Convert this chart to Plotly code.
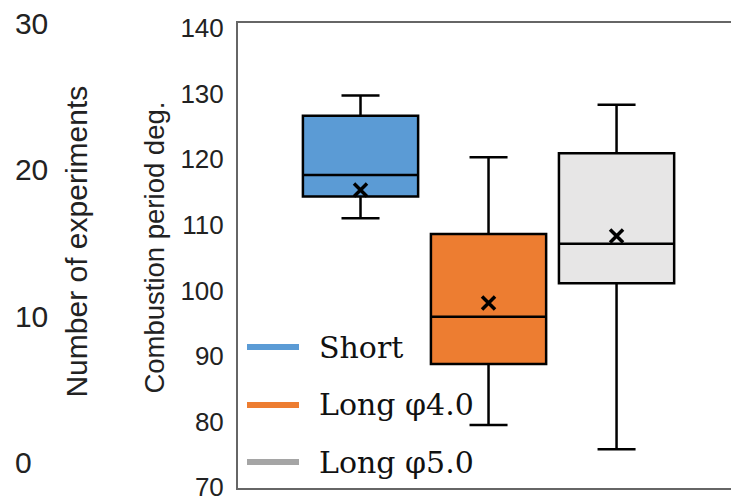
import plotly.graph_objects as go

# ---- data ----
series = ["Short", "Long φ4.0", "Long φ5.0"]
lower = [111.0, 79.5, 75.8]
q1 = [114.3, 88.8, 101.1]
median = [117.6, 96.0, 107.1]
q3 = [126.6, 108.6, 120.9]
upper = [129.7, 120.3, 128.3]
mean = [115.3, 98.1, 108.3]

right_ticks = [70, 80, 90, 100, 110, 120, 130, 140]
left_ticks = [0, 10, 20, 30]

box_fill = ["#5B9BD5", "#ED7D31", "#E7E6E6"]
legend_color = ["#5B9BD5", "#ED7D31", "#A5A5A5"]

W, H = 731, 497
fig = go.Figure()

for i, name in enumerate(series):
    fig.add_trace(go.Box(
        x=[i], q1=[q1[i]], median=[median[i]], q3=[q3[i]],
        lowerfence=[lower[i]], upperfence=[upper[i]],
        width=0.9, whiskerwidth=0.33,
        fillcolor=box_fill[i], line=dict(color="black", width=2.5),
        boxpoints=False, name=name, showlegend=False, hoverinfo="skip",
    ))

fig.add_trace(go.Scatter(
    x=list(range(len(series))), y=mean, mode="markers",
    marker=dict(symbol="x-thin", size=13, line=dict(width=3.5, color="black")),
    showlegend=False, hoverinfo="skip",
))

# secondary left axis (number of experiments) - invisible trace to activate it
fig.add_trace(go.Scatter(x=[None], y=[None], yaxis="y2", showlegend=False))

x0 = 238 / W
fig.update_layout(
    width=W, height=H,
    margin=dict(l=0, r=0, t=23, b=9, autoexpand=False),
    paper_bgcolor="white", plot_bgcolor="white",
    showlegend=False,
    xaxis=dict(domain=[x0, 1], range=[-0.957, 2.894], showticklabels=False,
               ticks="", showgrid=False, zeroline=False, automargin=False,
               showline=True, mirror=True, linecolor="#666", linewidth=2),
    yaxis=dict(range=[69.9, 140.75], tickvals=right_ticks, ticks="",
               showgrid=False, zeroline=False, showline=True, linecolor="#666",
               linewidth=2, ticklabelstandoff=7, automargin=False,
               ticklabeloverflow="allow",
               tickfont=dict(family="Liberation Sans, Arial", size=26, color="#222")),
    yaxis2=dict(overlaying="y", anchor="free", position=0.019, side="right",
                range=[-1.74, 30.02], tickvals=left_ticks, ticks="", automargin=False,
                showgrid=False, zeroline=False, showline=False,
                ticklabeloverflow="allow",
                tickfont=dict(family="Liberation Sans, Arial", size=30, color="#222")),
)

# axis titles
fig.add_annotation(text="Number of experiments", textangle=-90, xref="paper", yref="paper",
                   x=77 / W, y=0.530, xanchor="center", yanchor="middle", showarrow=False,
                   font=dict(family="Liberation Sans, Arial", size=30, color="#222"))
fig.add_annotation(text="Combustion period deg.", textangle=-90, xref="paper", yref="paper",
                   x=155 / W, y=0.517, xanchor="center", yanchor="middle", showarrow=False,
                   font=dict(family="Liberation Sans, Arial", size=27.5, color="#222"))

# legend (drawn manually to match long line samples)
leg_y = [0.3032, 0.1785, 0.0559]
for i, name in enumerate(series):
    fig.add_shape(type="line", xref="paper", yref="paper",
                  x0=247 / W, x1=299 / W, y0=leg_y[i], y1=leg_y[i],
                  line=dict(color=legend_color[i], width=6))
    fig.add_annotation(text=name, xref="paper", yref="paper", x=317 / W, y=leg_y[i],
                       xanchor="left", yanchor="middle", showarrow=False,
                       font=dict(family="DejaVu Serif", size=30, color="#111"))

fig.write_html("out.html", config={"responsive": False, "displayModeBar": False},
               post_script="document.body.style.margin='0';document.body.style.overflow='hidden';")
